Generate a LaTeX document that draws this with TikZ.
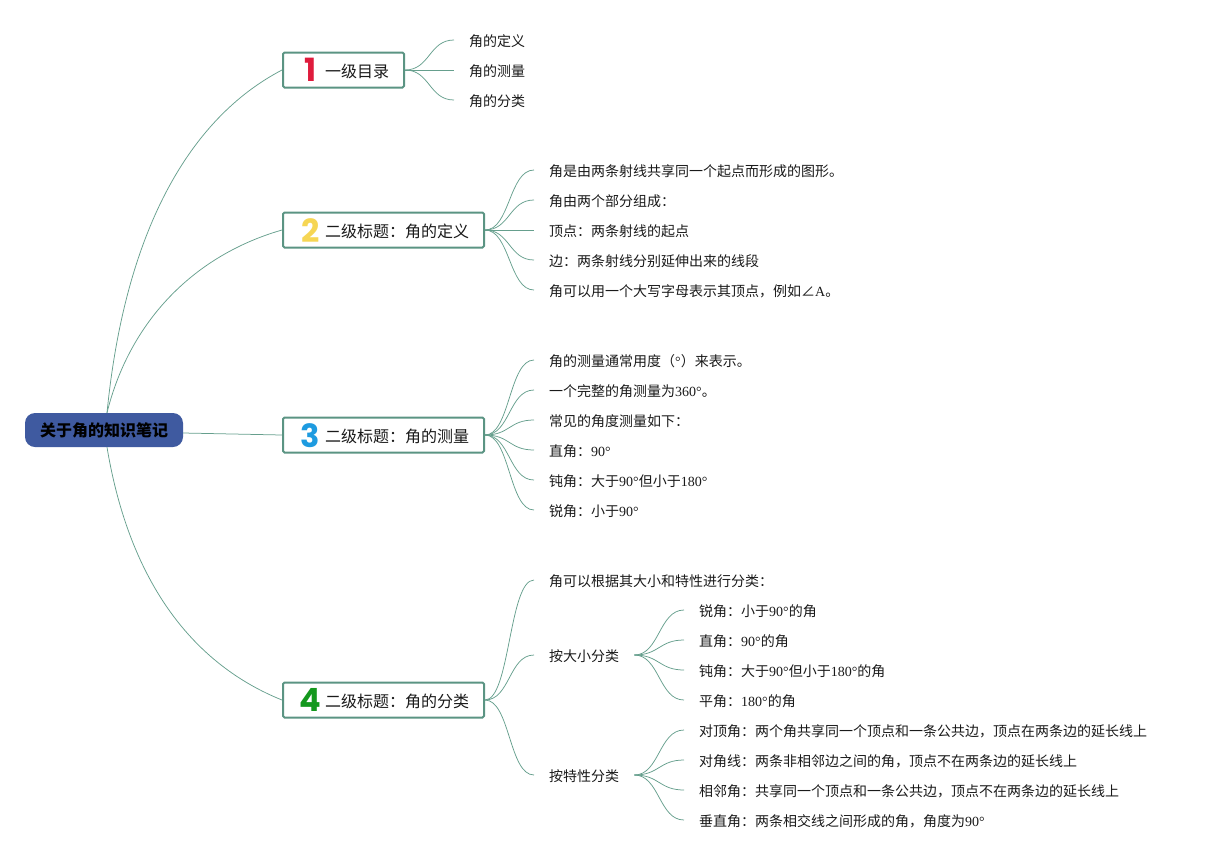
\documentclass[tikz,border=0pt]{standalone}
\usepackage{fontspec}
\setmainfont{Noto Sans CJK SC}
\newfontfamily\latf{Liberation Serif}
\newfontfamily\digf{Poppins}
\newcommand{\LT}[1]{{\latf #1}}
\definecolor{linec}{HTML}{669F8D}
\definecolor{boxc}{HTML}{5B9483}
\definecolor{rootc}{HTML}{3F5AA0}
\definecolor{textc}{HTML}{1A1A1A}
\definecolor{donec}{HTML}{DF1B3C}
\definecolor{dtwoc}{HTML}{F6D654}
\definecolor{dthreec}{HTML}{1E9BE0}
\definecolor{dfourc}{HTML}{14981E}
\tikzset{
 conn/.style={draw=linec,line width=0.75pt},
 leafnode/.style={anchor=west,inner xsep=15pt,inner ysep=0pt,text height=12pt,text depth=0pt,font=\fontsize{14}{14}\selectfont,text=textc},
 boxnode/.style={draw=boxc,line width=2pt,rounded corners=1.5pt,fill=white,minimum height=35pt,inner sep=0pt},
 digitnode/.style={inner sep=0pt,font=\fontsize{32}{32}\digf\bfseries\selectfont},
 titlenode/.style={anchor=west,inner sep=0pt,text height=13pt,text depth=1pt,font=\fontsize{16}{16}\selectfont,text=textc},
}
\newcommand{\leafcurve}[2]{\draw[conn] (#1.east) .. controls +(25,0) and +(-25,0) .. (#2.west);}
\begin{document}
\begin{tikzpicture}[x=1pt,y=-1pt]
\useasboundingbox (0,0) rectangle (1207,860);
\node[fill=rootc,rounded corners=10pt,minimum width=158pt,minimum height=34pt,inner sep=0pt,text height=13.5pt,text depth=0pt,font=\fontsize{16}{16}\bfseries\selectfont,text=black] (root) at (104,430) {关于角的知识笔记};
% boxes
\node[boxnode,minimum width=121pt] (b1) at (343.5,70) {};
\node[boxnode,minimum width=201pt] (b2) at (383.5,230) {};
\node[boxnode,minimum width=201pt] (b3) at (383.5,435) {};
\node[boxnode,minimum width=201pt] (b4) at (383.5,700) {};
\node[digitnode,text=donec] (d1) at (310.5,70) {1};
\node[digitnode,text=dtwoc] (d2) at (310.5,230.5) {2};
\node[digitnode,text=dthreec] (d3) at (310.5,435.5) {3};
\node[digitnode,text=dfourc] (d4) at (310.5,699.5) {4};
\node[titlenode] (t1) at (325,71) {一级目录};
\node[titlenode] (t2) at (325,231) {二级标题：角的定义};
\node[titlenode] (t3) at (325,436) {二级标题：角的测量};
\node[titlenode] (t4) at (325,701) {二级标题：角的分类};
% level 1 leaves
\node[leafnode] (a1) at (454,40) {角的定义};
\node[leafnode] (a2) at (454,70) {角的测量};
\node[leafnode] (a3) at (454,100) {角的分类};
% section 2
\node[leafnode] (c1) at (534,170) {角是由两条射线共享同一个起点而形成的图形。};
\node[leafnode] (c2) at (534,200) {角由两个部分组成：};
\node[leafnode] (c3) at (534,230) {顶点：两条射线的起点};
\node[leafnode] (c4) at (534,260) {边：两条射线分别延伸出来的线段};
\node[leafnode] (c5) at (534,290) {角可以用一个大写字母表示其顶点，例如∠\LT{A}。};
% section 3
\node[leafnode] (e1) at (534,360) {角的测量通常用度（\LT{°}）来表示。};
\node[leafnode] (e2) at (534,390) {一个完整的角测量为\LT{360°}。};
\node[leafnode] (e3) at (534,420) {常见的角度测量如下：};
\node[leafnode] (e4) at (534,450) {直角：\LT{90°}};
\node[leafnode] (e5) at (534,480) {钝角：大于\LT{90°}但小于\LT{180°}};
\node[leafnode] (e6) at (534,510) {锐角：小于\LT{90°}};
% section 4
\node[leafnode] (f1) at (534,580) {角可以根据其大小和特性进行分类：};
\node[leafnode] (f2) at (534,655) {按大小分类};
\node[leafnode] (f3) at (534,775) {按特性分类};
\node[leafnode] (g1) at (684,610) {锐角：小于\LT{90°}的角};
\node[leafnode] (g2) at (684,640) {直角：\LT{90°}的角};
\node[leafnode] (g3) at (684,670) {钝角：大于\LT{90°}但小于\LT{180°}的角};
\node[leafnode] (g4) at (684,700) {平角：\LT{180°}的角};
\node[leafnode] (h1) at (684,730) {对顶角：两个角共享同一个顶点和一条公共边，顶点在两条边的延长线上};
\node[leafnode] (h2) at (684,760) {对角线：两条非相邻边之间的角，顶点不在两条边的延长线上};
\node[leafnode] (h3) at (684,790) {相邻角：共享同一个顶点和一条公共边，顶点不在两条边的延长线上};
\node[leafnode] (h4) at (684,820) {垂直角：两条相交线之间形成的角，角度为\LT{90°}};
% root connectors
\coordinate (rt) at ([xshift=3pt]root.north);
\coordinate (rb) at ([xshift=3pt]root.south);
\coordinate (re) at ([yshift=-3pt]root.east);
\draw[conn] (rt) .. controls (125,230) and (190,118) .. (b1.west);
\draw[conn] (rt) .. controls (130,320) and (195,255) .. (b2.west);
\draw[conn] (re) -- (b3.west);
\draw[conn] (rb) .. controls (130,585) and (195,665) .. (b4.west);
% leaf connectors
\foreach \n in {a1,a2,a3} {\leafcurve{b1}{\n}}
\foreach \n in {c1,c2,c3,c4,c5} {\leafcurve{b2}{\n}}
\foreach \n in {e1,e2,e3,e4,e5,e6} {\leafcurve{b3}{\n}}
\foreach \n in {f1,f2,f3} {\leafcurve{b4}{\n}}
\foreach \n in {g1,g2,g3,g4} {\leafcurve{f2}{\n}}
\foreach \n in {h1,h2,h3,h4} {\leafcurve{f3}{\n}}
\end{tikzpicture}
\end{document}
